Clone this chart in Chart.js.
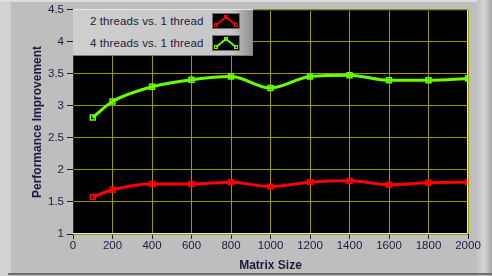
<!DOCTYPE html>
<html>
<head>
<meta charset="utf-8">
<script src="https://cdn.jsdelivr.net/npm/chart.js@4.4.1/dist/chart.umd.min.js"></script>
<style>
    html, body { margin: 0; padding: 0; background: #bebebe; }
    #wrap { position: relative; width: 492px; height: 276px; overflow: hidden; }
    #speedup-chart-legend {
        position: absolute; left: 73px; top: 9px; width: 180px; height: 47px;
        background: linear-gradient(to right, #cfcfcf 0%, #c6c6c6 88%, #a8a8a8 95%, #8c8c8c 100%);
        border-top: 1px solid #e6e6e6; border-bottom: 1px solid #7a7a7a;
        box-sizing: border-box;
    }
    #speedup-chart-legend ul { list-style: none; margin: 0; padding: 0; }
    #speedup-chart-legend li {
        position: relative; height: 22px; line-height: 22px;
        font-family: "Liberation Sans", Arial, sans-serif; font-size: 11.5px; color: #1c1c3c;
        padding-left: 17px; letter-spacing: 0.1px;
    }
    #speedup-chart-legend li canvas { position: absolute; left: 139px; top: 3px; }
</style>
</head>
<body>
<div id="wrap">
    <canvas id="speedup-chart" width="492" height="276"></canvas>
    <div id="speedup-chart-legend"></div>
</div>
<script>
    'use strict';

    // values
    const matrixSizes = [100, 200, 400, 600, 800, 1000, 1200, 1400, 1600, 1800, 2000];
    const twoThreads = [1.58, 1.69, 1.78, 1.78, 1.81, 1.74, 1.81, 1.83, 1.77, 1.80, 1.81];
    const fourThreads = [2.82, 3.07, 3.30, 3.41, 3.46, 3.28, 3.46, 3.48, 3.40, 3.40, 3.43];
    const seriesLabels = ['2 threads vs. 1 thread', '4 threads vs. 1 thread'];
    const xTickValues = [0, 200, 400, 600, 800, 1000, 1200, 1400, 1600, 1800, 2000];
    const yTickValues = [1, 1.5, 2, 2.5, 3, 3.5, 4, 4.5];

    const tickFont = { family: '"Liberation Sans", Arial, sans-serif', size: 11.5 };
    const labelColor = '#1c1c3c';
    const gridColor = '#9a9a00';

    function toPoints(values) {
        return matrixSizes.map(function (x, i) { return { x: x, y: values[i] }; });
    }

    const ctx = document.getElementById('speedup-chart');

    new Chart(ctx, {
        type: 'line',
        data: {
            datasets: [{
                label: seriesLabels[0],
                data: toPoints(twoThreads),
                borderColor: '#ff0000',
                pointBorderColor: '#ff0000',
                pointBackgroundColor: 'rgba(0,0,0,0)',
                borderWidth: 3,
                pointStyle: 'rect',
                pointRadius: 3.5,
                pointBorderWidth: 1.5,
                cubicInterpolationMode: 'monotone',
            },
            {
                label: seriesLabels[1],
                data: toPoints(fourThreads),
                borderColor: '#66ff00',
                pointBorderColor: '#66ff00',
                pointBackgroundColor: 'rgba(0,0,0,0)',
                borderWidth: 3,
                pointStyle: 'rect',
                pointRadius: 3.5,
                pointBorderWidth: 1.5,
                cubicInterpolationMode: 'monotone',
            }]
        },
        options: {
            responsive: false,
            animation: false,
            layout: { padding: { top: 9, right: 24, bottom: 0, left: 0 } },
            scales: {
                x: {
                    type: 'linear',
                    min: 0,
                    max: 2000,
                    afterBuildTicks: function (axis) {
                        axis.ticks = xTickValues.map(function (v) { return { value: v }; });
                    },
                    afterFit: function (axis) { axis.height = 42; },
                    ticks: {
                        font: tickFont,
                        color: labelColor,
                        padding: 0,
                        maxRotation: 0,
                        autoSkip: false,
                        callback: function (v) { return String(v); }
                    },
                    grid: {
                        color: gridColor,
                        lineWidth: 1,
                        tickColor: '#202020',
                        tickLength: 5,
                        drawOnChartArea: true,
                    },
                    border: { display: false },
                    title: {
                        display: true,
                        text: 'Matrix Size',
                        color: labelColor,
                        font: { family: '"Liberation Sans", Arial, sans-serif', size: 12, weight: 'bold' },
                        padding: { top: 0, bottom: 3 }
                    }
                },
                y: {
                    min: 1,
                    max: 4.5,
                    afterBuildTicks: function (axis) {
                        axis.ticks = yTickValues.map(function (v) { return { value: v }; });
                    },
                    afterFit: function (axis) { axis.width = 73; },
                    ticks: {
                        font: tickFont,
                        color: labelColor,
                        padding: 3,
                        autoSkip: false,
                        callback: function (v) { return String(v); }
                    },
                    grid: {
                        color: gridColor,
                        lineWidth: 1,
                        tickColor: '#202020',
                        tickLength: 6,
                    },
                    border: { display: false },
                    title: {
                        display: true,
                        text: 'Performance Improvement',
                        color: labelColor,
                        font: { family: '"Liberation Sans", Arial, sans-serif', size: 12, weight: 'bold' },
                        padding: { top: 30, bottom: 0 }
                    }
                }
            },
            plugins: {
                legend: { display: false },
                tooltip: { enabled: false }
            }
        },
        plugins: [{
            id: 'panel',
            beforeDraw: function (chart) {
                const c = chart.ctx;
                const a = chart.chartArea;
                c.save();
                // grey front panel with bevelled edges
                c.fillStyle = '#bebebe';
                c.fillRect(0, 0, chart.width, chart.height);
                c.fillStyle = '#d2d2d2';
                c.fillRect(0, 0, 11, chart.height);
                c.fillStyle = '#dedede';
                c.fillRect(0, 0, chart.width, 2);
                const edge = c.createLinearGradient(477, 0, 492, 0);
                edge.addColorStop(0, '#c4c4c4');
                edge.addColorStop(0.5, '#d4d4d4');
                edge.addColorStop(1, '#a6a6a6');
                c.fillStyle = edge;
                c.fillRect(477, 0, 15, chart.height);
                c.fillStyle = '#6e6e6e';
                c.fillRect(8, 273, chart.width - 8, 2);
                // black plot area
                c.fillStyle = '#000000';
                c.fillRect(a.left, a.top, a.right - a.left, a.bottom - a.top);
                c.restore();
            },
            afterDatasetsDraw: function (chart) {
                const c = chart.ctx;
                const a = chart.chartArea;
                c.save();
                c.lineWidth = 1;
                c.strokeStyle = '#303030';
                c.beginPath();
                c.moveTo(a.left + 0.5, a.bottom);
                c.lineTo(a.left + 0.5, a.top + 0.5);
                c.lineTo(a.right, a.top + 0.5);
                c.stroke();
                c.strokeStyle = '#e8e8e8';
                c.beginPath();
                c.moveTo(a.right - 0.5, a.top);
                c.lineTo(a.right - 0.5, a.bottom - 0.5);
                c.lineTo(a.left, a.bottom - 0.5);
                c.stroke();
                c.restore();
            }
        }, {
            id: 'htmlLegend',
            afterUpdate: function (chart) {
                const box = document.getElementById(chart.canvas.id + '-legend');
                box.innerHTML = '';
                const ul = document.createElement('ul');
                chart.data.datasets.forEach(function (ds) {
                    const li = document.createElement('li');
                    li.textContent = ds.label;
                    const sw = document.createElement('canvas');
                    sw.width = 28;
                    sw.height = 16;
                    const s = sw.getContext('2d');
                    s.fillStyle = '#000';
                    s.fillRect(0, 0, 28, 16);
                    s.strokeStyle = '#707070';
                    s.strokeRect(0.5, 0.5, 27, 15);
                    s.strokeStyle = ds.borderColor;
                    s.lineWidth = 2;
                    s.beginPath();
                    s.moveTo(4, 12);
                    s.lineTo(14, 4);
                    s.lineTo(24, 12);
                    s.stroke();
                    s.lineWidth = 1;
                    [[4, 12], [14, 4], [24, 12]].forEach(function (p) {
                        s.strokeRect(p[0] - 1.5, p[1] - 1.5, 3, 3);
                    });
                    li.appendChild(sw);
                    ul.appendChild(li);
                });
                box.appendChild(ul);
            }
        }]
    });
</script>
</body>
</html>
